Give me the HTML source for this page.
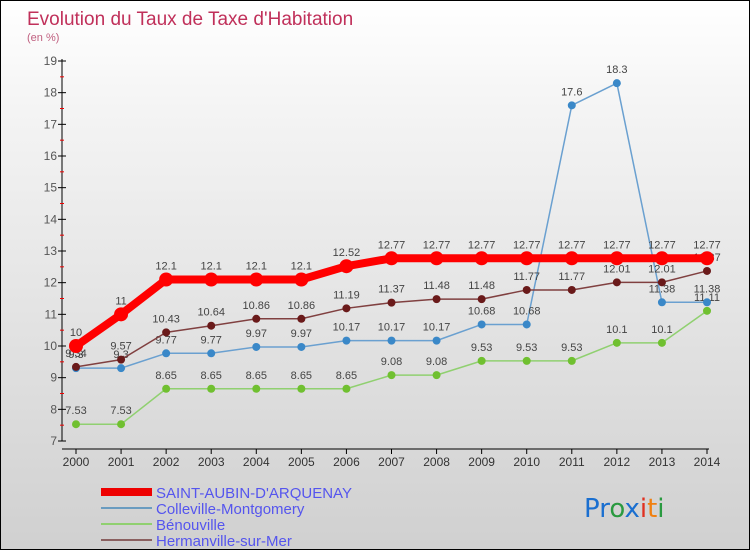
<!DOCTYPE html>
<html><head><meta charset="utf-8"><style>
body{margin:0}
#wrap{position:relative;width:748px;height:548px;border:1px solid #000;background:linear-gradient(#ffffff,#f4f4f4 20%,#d0d0d0);overflow:hidden;font-family:"Liberation Sans",sans-serif}
svg{position:absolute;left:0;top:0}
</style></head><body>
<div id="wrap">
<svg id="c" width="748" height="548">
<text x="26" y="24" font-size="19" fill="#c0305a">Evolution du Taux de Taxe d'Habitation</text>
<text x="26" y="40" font-size="11" fill="#c06080">(en %)</text>
<line x1="61" y1="58" x2="61" y2="440" stroke="#000"/>
<line x1="61" y1="448" x2="708" y2="448" stroke="#000"/>
<g id="ax"></g><g id="series"></g>
<g>
<rect x="100" y="487" width="51" height="8" fill="#e00"/>
<text x="155" y="497" font-size="15" fill="#5555ee">SAINT-AUBIN-D'ARQUENAY</text>
<rect x="100" y="506" width="51" height="2" fill="#6a9cc0"/>
<text x="155" y="513" font-size="15" fill="#5555ee">Colleville-Montgomery</text>
<rect x="100" y="522" width="51" height="2" fill="#90d070"/>
<text x="155" y="529" font-size="15" fill="#5555ee">Bénouville</text>
<rect x="100" y="538" width="51" height="2" fill="#8a6060"/>
<text x="155" y="545" font-size="15" fill="#5555ee">Hermanville-sur-Mer</text>
</g>
<g font-size="26" font-family="'DejaVu Sans',sans-serif">
<text x="583" y="516"><tspan fill="#1a6fd0">Pr</tspan><tspan fill="#2a9a40">o</tspan><tspan fill="#1a6fd0">x</tspan><tspan fill="#e03020">i</tspan><tspan fill="#f08010">t</tspan><tspan fill="#2a9a40">i</tspan></text>
</g>
</svg>
</div>
<script>
const years=[2000,2001,2002,2003,2004,2005,2006,2007,2008,2009,2010,2011,2012,2013,2014];
const saintAubin=[10,11,12.1,12.1,12.1,12.1,12.52,12.77,12.77,12.77,12.77,12.77,12.77,12.77,12.77];
const colleville=[9.3,9.3,9.77,9.77,9.97,9.97,10.17,10.17,10.17,10.68,10.68,17.6,18.3,11.38,11.38];
const benouville=[7.53,7.53,8.65,8.65,8.65,8.65,8.65,9.08,9.08,9.53,9.53,9.53,10.1,10.1,11.11];
const hermanville=[9.34,9.57,10.43,10.64,10.86,10.86,11.19,11.37,11.48,11.48,11.77,11.77,12.01,12.01,12.37];
const yTicks=[7,8,9,10,11,12,13,14,15,16,17,18,19];
const NS="http://www.w3.org/2000/svg";
const xs=i=>75+i*(706-75)/(years.length-1);
const ys=v=>440-(v-7)*(380/12);
function mk(tag,attrs,parent){const e=document.createElementNS(NS,tag);for(const k in attrs)e.setAttribute(k,attrs[k]);parent.appendChild(e);return e;}
const ax=document.getElementById('ax');
yTicks.forEach(t=>{
 const l=mk('line',{x1:57,x2:65,y1:ys(t),y2:ys(t),stroke:'#000'},ax);
 
 
 const tx=mk('text',{x:56,y:ys(t)+4,'font-size':12,fill:'#555','text-anchor':'end'},ax);
 tx.textContent=t;
 
 
 if(t<19){const m=mk('line',{x1:59,x2:63,y1:ys(t+0.5),y2:ys(t+0.5),stroke:'#e00'},ax);
 
 }
});
years.forEach((y,i)=>{
 const l=mk('line',{x1:xs(i),x2:xs(i),y1:448,y2:453,stroke:'#000'},ax);
 
 
 const tx=mk('text',{x:xs(i),y:465,'font-size':12,fill:'#333','text-anchor':'middle'},ax);
 tx.textContent=y;
 
 
});
const sg=document.getElementById('series');
function draw(vals,name,color,dot,w,r){
 const g=mk('g',{},sg);
 
 
 const p=mk('polyline',{points:vals.map((v,i)=>xs(i)+','+ys(v)).join(' '),fill:'none',stroke:color,'stroke-width':w,'stroke-linejoin':'round'},g);
 
 
 vals.forEach((v,i)=>{
  const c=mk('circle',{cx:xs(i),cy:ys(v),r:r,fill:dot},g);
  
  
  const t=mk('text',{x:xs(i),y:ys(v)-10,'font-size':11,fill:'#444','text-anchor':'middle'},g);
  t.textContent=v;
  
  
 });
}
draw(benouville,'benouville','#90d070','#70c030',1.5,4);
draw(colleville,'colleville','#6aa0d0','#3a88c8',1.5,4);
draw(hermanville,'hermanville','#804040','#6a1a1a',1.5,4);
draw(saintAubin,'saint-aubin','#f00','#f00',8,7);
</script>
</body></html>
